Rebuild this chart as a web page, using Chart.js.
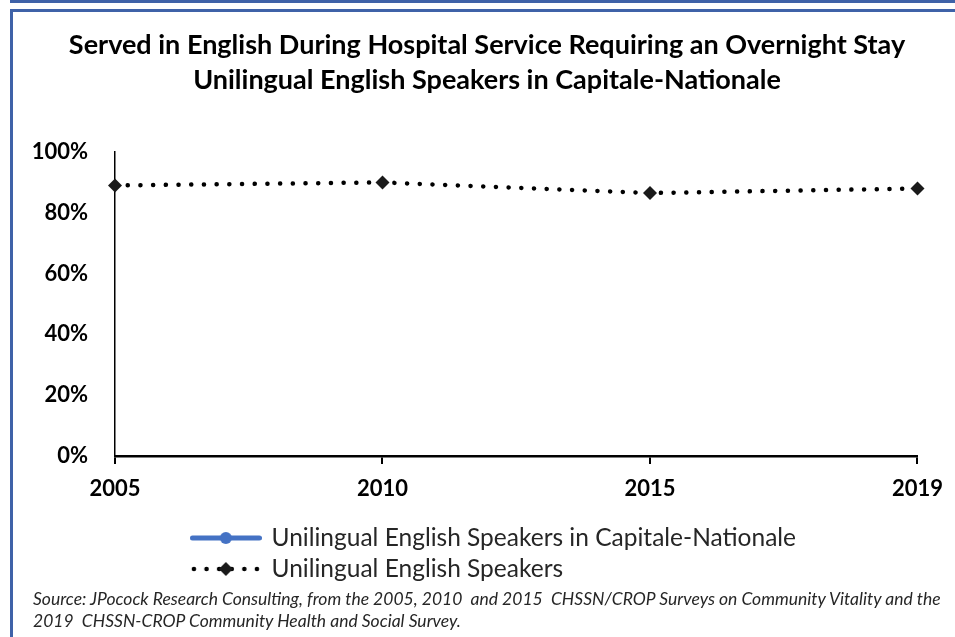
<!DOCTYPE html>
<html>
<head>
<meta charset="utf-8">
<script src="https://cdn.jsdelivr.net/npm/chart.js@4.4.1/dist/chart.umd.min.js"></script>
<style>
  html, body { margin: 0; padding: 0; background: #fff; }
  body { width: 955px; height: 637px; position: relative; overflow: hidden; }
  #c { position: absolute; left: 0; top: 0; }
  .bar { position: absolute; background: #3F62A8; }
  #source { position: absolute; left: 33px; top: 588px; font-family: Lato, sans-serif; font-style: italic;
            font-size: 17.5px; line-height: 22px; color: #262626; white-space: pre; }
</style>
</head>
<body>
<canvas id="c" width="955" height="637"></canvas>
<div class="bar" style="left:10px;top:0;width:945px;height:3px"></div>
<div class="bar" style="left:10px;top:9px;width:945px;height:3px"></div>
<div class="bar" style="left:10px;top:9px;width:3px;height:628px"></div>
<div id="source">Source: JPocock Research Consulting, from the 2005, 2010  and 2015  CHSSN/CROP Surveys on Community Vitality and the
2019  CHSSN-CROP Community Health and Social Survey.</div>
<script>
// ---- data ----
const years = ['2005', '2010', '2015', '2019'];
const capitaleNationale = [null, null, null, null];
const unilingualEnglish = [89, 90, 86.5, 88];
const yTicks = [0, 20, 40, 60, 80, 100];
const seriesNames = ['Unilingual English Speakers in Capitale-Nationale', 'Unilingual English Speakers'];
const titleLines = ['Served in English During Hospital Service Requiring an Overnight Stay',
                    'Unilingual English Speakers in Capitale-Nationale'];

// ---- legend glyphs ----
function sampleBlue() {
  const c = document.createElement('canvas'); c.width = 72; c.height = 16;
  const g = c.getContext('2d');
  g.strokeStyle = '#4472C4'; g.lineWidth = 5; g.lineCap = 'round';
  g.beginPath(); g.moveTo(2.5, 8); g.lineTo(69.5, 8); g.stroke();
  g.fillStyle = '#4472C4'; g.beginPath(); g.arc(36, 8, 6, 0, Math.PI * 2); g.fill();
  return c;
}
function sampleDots() {
  const c = document.createElement('canvas'); c.width = 72; c.height = 16;
  const g = c.getContext('2d');
  g.strokeStyle = '#000'; g.lineWidth = 4.5; g.lineCap = 'round';
  g.setLineDash([0.1, 12.5]);
  g.beginPath(); g.moveTo(4, 8); g.lineTo(70, 8); g.stroke();
  g.fillStyle = '#1a1a1a'; g.beginPath();
  g.moveTo(36, 1); g.lineTo(43, 8); g.lineTo(36, 15); g.lineTo(29, 8); g.closePath(); g.fill();
  return c;
}
const glyphs = [sampleBlue(), sampleDots()];

const legendShift = {
  id: 'legendShift',
  afterLayout(chart) {
    const l = chart.legend;
    const dx = 186 - l.left;
    l.left += dx; l.right += dx;
  }
};

new Chart(document.getElementById('c'), {
  type: 'line',
  data: {
    labels: years,
    datasets: [
      { label: seriesNames[0], data: capitaleNationale, borderColor: '#4472C4', backgroundColor: '#4472C4',
        borderWidth: 5, pointRadius: 6, clip: false },
      { label: seriesNames[1], data: unilingualEnglish, borderColor: '#000', backgroundColor: '#000',
        borderWidth: 4.5, borderDash: [0.1, 12.6], borderCapStyle: 'round', tension: 0,
        pointStyle: 'rectRot', pointRadius: 7, pointBackgroundColor: '#1a1a1a', pointBorderWidth: 0, clip: false }
    ]
  },
  options: {
    responsive: false,
    animation: false,
    events: [],
    layout: { padding: { left: 20, right: 1, top: 0, bottom: 45.75 } },
    plugins: {
      title: { display: true, text: titleLines, color: '#000',
        font: { family: 'Lato', size: 27, weight: 'bold', lineHeight: 35 / 27 },
        padding: { top: 27.5, bottom: 54.5 } },
      legend: { position: 'bottom', align: 'start',
        labels: { usePointStyle: true, pointStyleWidth: 66.75, padding: 6.5, color: '#262626',
          font: { family: 'Lato', size: 24.5 },
          generateLabels(chart) {
            const items = Chart.defaults.plugins.legend.labels.generateLabels(chart);
            items.forEach((it, i) => { it.pointStyle = glyphs[i]; });
            return items;
          } } },
      tooltip: { enabled: false }
    },
    scales: {
      x: { type: 'category', offset: false,
        grid: { display: true, drawOnChartArea: false, drawTicks: true, tickLength: 8, color: '#000', lineWidth: 2 },
        border: { display: true, color: '#000', width: 2.5 },
        ticks: { padding: 12, color: '#000', maxRotation: 0, autoSkip: false,
          font: { family: 'Lato', size: 22, weight: 'bold' } },
        afterFit(s) { s.height = 63.25; } },
      y: { min: 0, max: 100,
        afterBuildTicks(s) { s.ticks = yTicks.map(v => ({ value: v })); },
        grid: { display: false, drawTicks: false },
        border: { display: true, color: '#000', width: 1.5 },
        ticks: { padding: 27, color: '#000', callback: v => v + '%',
          font: { family: 'Lato', size: 22, weight: 'bold' } },
        afterFit(s) { s.width = 95; } },
      yRight: { position: 'right', min: 0, max: 100,
        grid: { display: false, drawTicks: false }, border: { display: false },
        ticks: { display: false },
        afterFit(s) { s.width = 34; } }
    }
  },
  plugins: [legendShift]
});
</script>
</body>
</html>
